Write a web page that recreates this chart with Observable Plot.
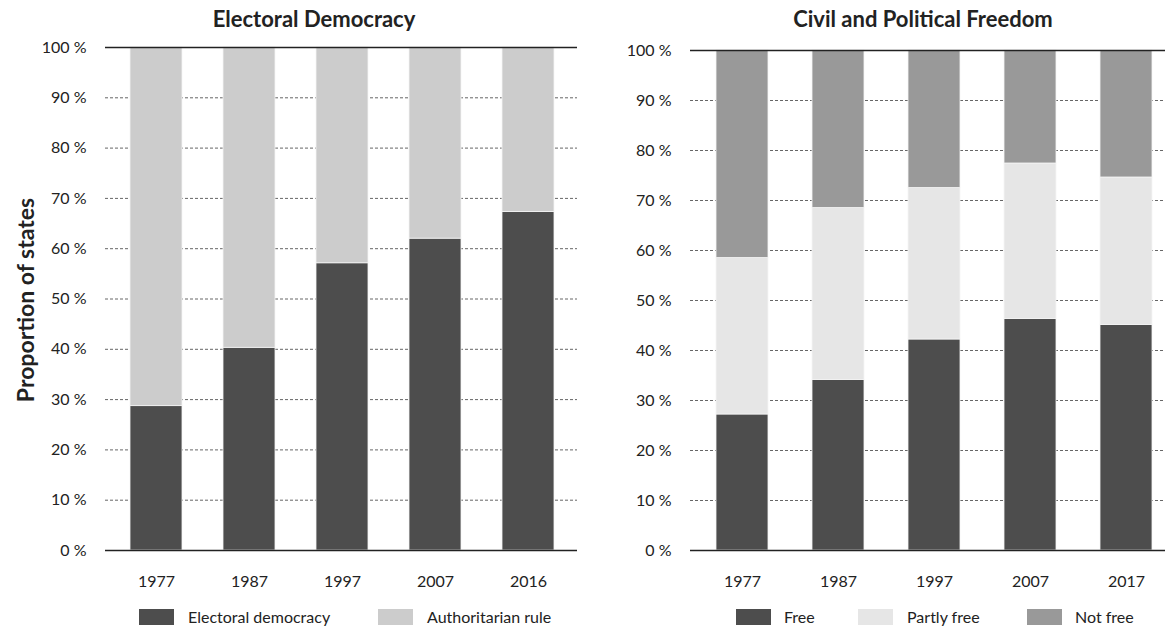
<!DOCTYPE html>
<html>
<head>
<meta charset="utf-8">
<script src="https://cdn.jsdelivr.net/npm/d3@7"></script>
<script src="https://cdn.jsdelivr.net/npm/@observablehq/plot@0.6"></script>
<style>
  html, body { margin: 0; padding: 0; background: #fff; }
  body { width: 1170px; height: 632px; position: relative; overflow: hidden; font-family: Lato, "Open Sans", sans-serif; color: #222; }
  .panel { position: absolute; top: 0; }
  .title { position: absolute; top: 5px; font-weight: bold; font-size: 22px; transform: translateX(-50%); white-space: nowrap; }
  .ylab { position: absolute; left: 25px; top: 300px; font-weight: bold; font-size: 23px; transform: translate(-50%, -50%) rotate(-90deg); white-space: nowrap; }
  .sw { position: absolute; top: 609px; width: 35px; height: 16px; }
  .lt { position: absolute; top: 606px; font-size: 16px; line-height: 22px; white-space: nowrap; }
</style>
</head>
<body>
<div id="p1" class="panel" style="left:0"></div>
<div id="p2" class="panel" style="left:585px"></div>
<div class="title" style="left:314px">Electoral Democracy</div>
<div class="title" style="left:923px">Civil and Political Freedom</div>
<div class="ylab">Proportion of states</div>
<div id="legends"></div>
<script>
// ---- Data ----
const years1 = ["1977", "1987", "1997", "2007", "2016"];
const electoral = [28.7, 40.3, 57.1, 62.0, 67.3];
const authoritarian = [71.3, 59.7, 42.9, 38.0, 32.7];
const cats1 = ["Electoral democracy", "Authoritarian rule"];
const colors1 = ["#4d4d4d", "#cccccc"];

const years2 = ["1977", "1987", "1997", "2007", "2017"];
const free = [27.2, 34.1, 42.2, 46.3, 45.1];
const partlyFree = [31.3, 34.4, 30.3, 31.1, 29.5];
const notFree = [41.5, 31.5, 27.5, 22.6, 25.4];
const cats2 = ["Free", "Partly free", "Not free"];
const colors2 = ["#4d4d4d", "#e6e6e6", "#999999"];

const gridTicks = [10, 20, 30, 40, 50, 60, 70, 80, 90];
const yTicks = [0, 10, 20, 30, 40, 50, 60, 70, 80, 90, 100];
const frameTicks = [0, 100];

const rows1 = years1.flatMap((yr, i) => [
  {year: yr, cat: cats1[0], v: electoral[i]},
  {year: yr, cat: cats1[1], v: authoritarian[i]}
]);
const rows2 = years2.flatMap((yr, i) => [
  {year: yr, cat: cats2[0], v: free[i]},
  {year: yr, cat: cats2[1], v: partlyFree[i]},
  {year: yr, cat: cats2[2], v: notFree[i]}
]);

function panel(rows, years, cats, colors, opts) {
  return Plot.plot({
    width: 585,
    height: 600,
    marginLeft: 105,
    marginRight: opts.marginRight,
    marginTop: opts.marginTop,
    marginBottom: 50,
    style: {fontFamily: "Lato, 'Open Sans', sans-serif", fontSize: "16px", color: "#222", background: "transparent"},
    x: {type: "band", domain: years, range: opts.xRange, paddingInner: opts.pad, paddingOuter: 0, label: null, tickSize: 0, tickPadding: 25},
    y: {domain: [0, 100], ticks: yTicks, tickFormat: d => d + " %", label: null, tickSize: 0, tickPadding: 19},
    color: {domain: cats, range: colors},
    marks: [
      Plot.ruleY(gridTicks, {stroke: "#666", strokeWidth: 1, strokeDasharray: "3,2"}),
      Plot.barY(rows, {x: "year", y: "v", fill: "cat", stroke: "#f4f4f4", strokeWidth: 0.8}),
      Plot.ruleY(frameTicks, {stroke: "#222", strokeWidth: 1.4})
    ]
  });
}

document.getElementById("p1").appendChild(
  panel(rows1, years1, cats1, colors1, {marginRight: 8, marginTop: 47, xRange: [130, 555], pad: 0.44})
);
document.getElementById("p2").appendChild(
  panel(rows2, years2, cats2, colors2, {marginRight: 5, marginTop: 50, xRange: [130, 568], pad: 0.46})
);

// ---- Legends ----
const legendItems = [
  {label: cats1[0], color: colors1[0], sx: 139, tx: 188},
  {label: cats1[1], color: colors1[1], sx: 378, tx: 427},
  {label: cats2[0], color: colors2[0], sx: 736, tx: 784},
  {label: cats2[1], color: colors2[1], sx: 858, tx: 907},
  {label: cats2[2], color: colors2[2], sx: 1027, tx: 1075}
];
const lg = document.getElementById("legends");
legendItems.forEach(it => {
  const s = document.createElement("div");
  s.className = "sw"; s.style.left = it.sx + "px"; s.style.background = it.color;
  lg.appendChild(s);
  const t = document.createElement("div");
  t.className = "lt"; t.style.left = it.tx + "px"; t.textContent = it.label;
  lg.appendChild(t);
});
</script>
</body>
</html>
